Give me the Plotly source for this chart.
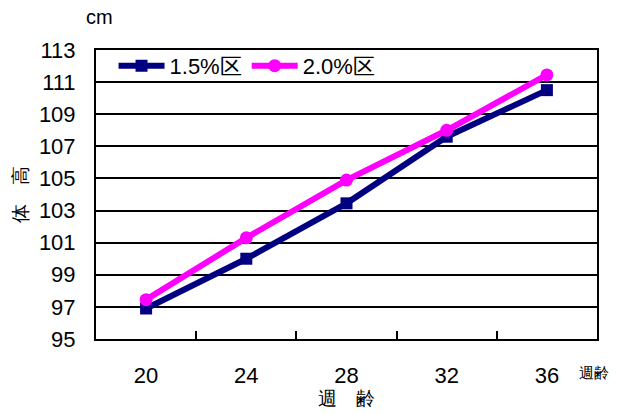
import plotly.graph_objects as go

# Age in weeks (categories) and body height (cm) for the two feed groups
weeks = ["20", "24", "28", "32", "36"]
group_15 = [96.9, 100.0, 103.45, 107.6, 110.5]
group_20 = [97.45, 101.3, 104.9, 108.0, 111.45]
y_ticks = [95, 97, 99, 101, 103, 105, 107, 109, 111, 113]

FONT = "Liberation Sans, Arial, sans-serif"

fig = go.Figure()
fig.add_trace(go.Scatter(
    x=weeks, y=group_15, name="1.5%区", mode="lines+markers",
    line=dict(color="#000080", width=6),
    marker=dict(symbol="square", size=12, color="#000080"),
))
fig.add_trace(go.Scatter(
    x=weeks, y=group_20, name="2.0%区", mode="lines+markers",
    line=dict(color="#FF00FF", width=6),
    marker=dict(symbol="circle", size=13, color="#FF00FF"),
))

fig.update_layout(
    width=617, height=414,
    margin=dict(l=96, r=20, t=50, b=72),
    paper_bgcolor="white", plot_bgcolor="white",
    font=dict(family=FONT, size=22, color="black"),
    showlegend=True,
    legend=dict(
        orientation="h", x=0.035, y=0.945, xanchor="left", yanchor="middle",
        bgcolor="rgba(0,0,0,0)", font=dict(size=22), itemwidth=46,
        tracegroupgap=0,
    ),
    xaxis=dict(
        type="category", range=[-0.5, 4.5], tickson="boundaries",
        ticks="inside", ticklen=8, tickwidth=2, tickcolor="black",
        showline=True, linecolor="black", linewidth=2, mirror=True,
        showgrid=False, ticklabelstandoff=16,
        tickfont=dict(size=22),
        title=dict(text="週　齢", font=dict(size=19), standoff=0),
    ),
    yaxis=dict(
        range=[95, 113], tickvals=y_ticks, ticks="",
        showline=True, linecolor="black", linewidth=2, mirror=True,
        showgrid=True, gridcolor="black", gridwidth=1.5,
        ticklabelstandoff=14, tickfont=dict(size=22),
        title=dict(text="体　高", font=dict(size=19), standoff=6),
    ),
    annotations=[
        dict(text="cm", xref="paper", yref="paper", x=0.0, y=1.0,
             xanchor="left", yanchor="bottom", yshift=20, xshift=-12,
             showarrow=False, font=dict(size=20)),
        dict(text="週齢", xref="paper", yref="paper", x=0.96, y=0.0,
             xanchor="left", yanchor="middle", yshift=-33,
             showarrow=False, font=dict(size=15)),
    ],
)

fig.write_html("out.html")
